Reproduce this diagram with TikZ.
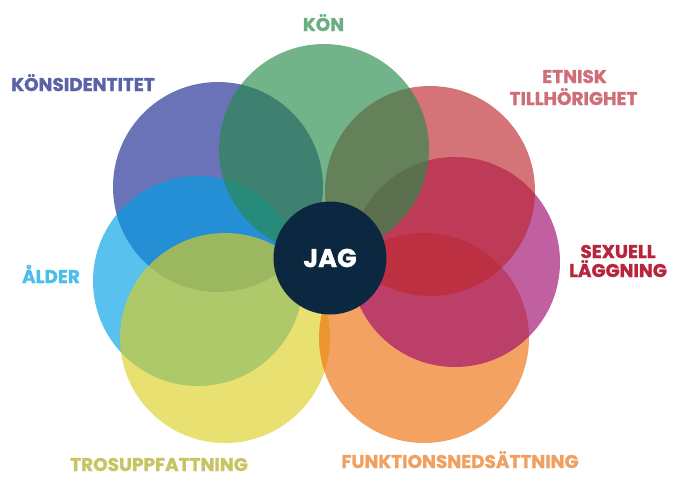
\documentclass[tikz,border=0pt]{standalone}
\usepackage{fontspec}
\usepackage{tikz}
\newfontfamily\labelfont{Poppins}[BoldFeatures={FakeBold=1.2}]

\definecolor{konGreen}{RGB}{40,138,75}
\definecolor{idBlue}{RGB}{27,40,146}
\definecolor{alderCyan}{RGB}{0,160,229}
\definecolor{troYellow}{RGB}{220,207,35}
\definecolor{funkOrange}{RGB}{238,112,14}
\definecolor{sexMagenta}{RGB}{158,10,109}
\definecolor{etnRed}{RGB}{189,41,47}
\definecolor{jagNavy}{RGB}{11,40,64}
\definecolor{konText}{RGB}{108,174,132}
\definecolor{idText}{RGB}{90,98,168}
\definecolor{etnText}{RGB}{206,110,118}
\definecolor{sexText}{RGB}{184,36,60}
\definecolor{alderText}{RGB}{76,190,236}
\definecolor{troText}{RGB}{200,196,100}
\definecolor{funkText}{RGB}{240,160,96}

\tikzset{
    ring/.style={circle, minimum size=4.2cm, inner sep=0pt, fill opacity=0.65},
    tag/.style={anchor=base, inner sep=0pt, font=\labelfont\bfseries\fontsize{10.5}{12}\selectfont},
}

\begin{document}
\begin{tikzpicture}
    \useasboundingbox (-6.6cm,-4.38cm) rectangle (6.92cm,5.16cm);
    \node[ring, fill=idBlue]     (identitet) at (-2.24cm, 1.42cm) {};
    \node[ring, fill=alderCyan]  (alder)     at (-2.64cm,-0.46cm) {};
    \node[ring, fill=troYellow]  (tro)       at (-2.10cm,-1.60cm) {};
    \node[ring, fill=funkOrange] (funktion)  at ( 1.88cm,-1.60cm) {};
    \node[ring, fill=sexMagenta] (sexuell)   at ( 2.50cm,-0.08cm) {};
    \node[ring, fill=etnRed]     (etnisk)    at ( 2.00cm, 1.34cm) {};
    \node[ring, fill=konGreen]   (kon)       at (-0.12cm, 2.18cm) {};
    \node[circle, minimum size=2.26cm, inner sep=0pt, fill=jagNavy, text=white,
          font=\labelfont\bfseries\fontsize{14.6}{16}\selectfont] (jag) at (0cm,0cm) {JAG};

    \node[tag, text=konText]   (konlabel)     at (-0.13cm, 4.54cm) {KÖN};
    \node[tag, text=idText]    (idlabel)      at (-4.94cm, 3.34cm) {KÖNSIDENTITET};
    \node[tag, text=etnText]   (etnlabel)     at ( 4.89cm, 3.50cm) {ETNISK};
    \node[tag, text=etnText]   (etnlabeltwo)  at ( 4.87cm, 3.06cm) {TILLHÖRIGHET};
    \node[tag, text=sexText]   (sexlabel)     at ( 5.76cm, 0.00cm) {SEXUELL};
    \node[tag, text=sexText]   (sexlabeltwo)  at ( 5.76cm,-0.38cm) {LÄGGNING};
    \node[tag, text=alderText] (alderlabel)   at (-5.58cm,-0.50cm) {ÅLDER};
    \node[tag, text=troText]   (trolabel)     at (-3.42cm,-4.26cm) {TROSUPPFATTNING};
    \node[tag, text=funkText]  (funklabel)    at ( 2.60cm,-4.20cm) {FUNKTIONSNEDSÄTTNING};
\end{tikzpicture}
\end{document}
